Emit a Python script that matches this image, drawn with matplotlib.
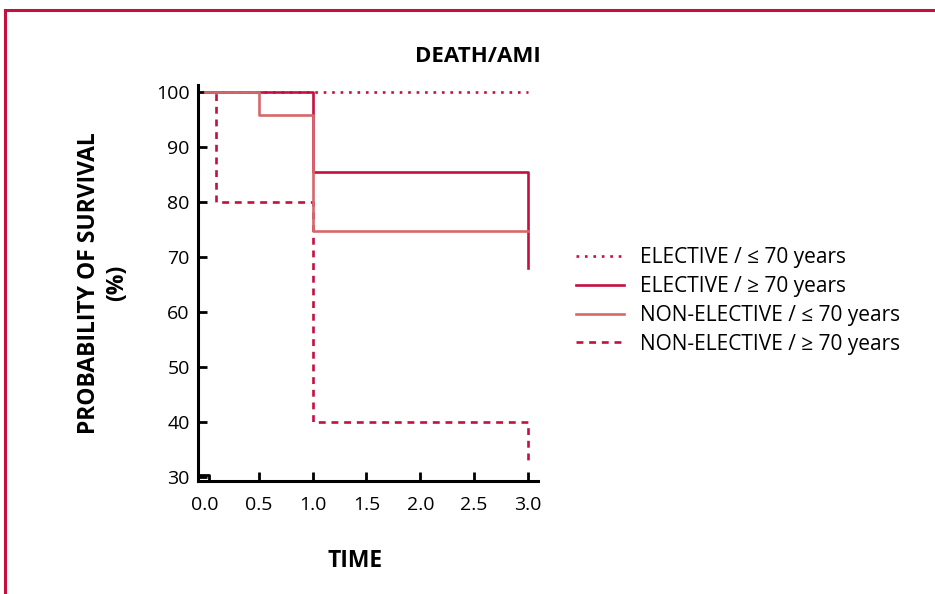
import matplotlib.pyplot as plt
from matplotlib.patches import Rectangle

plt.rcParams['font.family'] = ['Open Sans', 'DejaVu Sans']

CRIMSON = '#c4103f'
PINK = '#d6686c'

# Kaplan-Meier steps (time in years, survival in %)
elec_le70_t = [0.0, 3.0]
elec_le70_s = [100, 100]
elec_ge70_t = [0.0, 1.0, 3.0]
elec_ge70_s = [100, 85.5, 68]
nonelec_le70_t = [0.0, 0.5, 1.0, 3.0]
nonelec_le70_s = [100, 95.8, 74.8, 74.8]
nonelec_ge70_t = [0.0, 0.1, 1.0, 3.0]
nonelec_ge70_s = [100, 80, 40, 32.5]

labels = ['ELECTIVE / \u2264 70 years', 'ELECTIVE / \u2265 70 years',
          'NON-ELECTIVE / \u2264 70 years', 'NON-ELECTIVE / \u2265 70 years']

xticks = [0.0, 0.5, 1.0, 1.5, 2.0, 2.5, 3.0]
yticks = [30, 40, 50, 60, 70, 80, 90, 100]


def do_plot():
    fig = plt.figure(figsize=(9.35, 5.94), dpi=100)
    ax = fig.add_axes([198 / 935, 1 - 481 / 594, 340 / 935, 396 / 594])

    lw = 1.9
    l1, = ax.step(elec_le70_t, elec_le70_s, where='post', color=CRIMSON, lw=lw,
                  linestyle=(0, (1, 2.2)), zorder=2, label=labels[0])
    l4, = ax.step(nonelec_ge70_t, nonelec_ge70_s, where='post', color=CRIMSON, lw=lw,
                  linestyle=(0, (2.6, 2.2)), zorder=2, label=labels[3])
    l2, = ax.step(elec_ge70_t, elec_ge70_s, where='post', color=CRIMSON, lw=lw,
                  zorder=3, label=labels[1])
    l3, = ax.step(nonelec_le70_t, nonelec_le70_s, where='post', color=PINK, lw=lw,
                  zorder=4, label=labels[2])

    ax.set_xlim(-0.065, 3.093)
    ax.set_ylim(29.27, 101.3)
    ax.set_xticks(xticks)
    ax.set_xticklabels(['%.1f' % v for v in xticks])
    ax.set_yticks(yticks)
    for s in ['top', 'right']:
        ax.spines[s].set_visible(False)
    for s in ['left', 'bottom']:
        ax.spines[s].set_linewidth(2.2)
    ax.tick_params(direction='in', length=6.5, width=2, labelsize=14)
    ax.tick_params(axis='y', pad=6)
    ax.tick_params(axis='x', pad=11)
    ax.xaxis.get_major_ticks()[0].tick1line.set_visible(False)

    # small axis-break box at the corner
    ax.plot([0, 0.033, 0.033], [0.015, 0.015, 0], transform=ax.transAxes,
            color='black', lw=2, clip_on=False, solid_capstyle='butt')

    fig.legend(handles=[l1, l2, l3, l4], loc='upper left',
               bbox_to_anchor=(566 / 935, 1 - 237 / 594), frameon=False,
               fontsize=15, handlelength=2.3, handletextpad=0.75,
               labelspacing=0.37, borderpad=0)

    fig.text(478 / 935, 1 - 57 / 594, 'DEATH/AMI', ha='center', va='center',
             fontsize=16, fontweight='bold')
    fig.text(355 / 935, 1 - 561 / 594, 'TIME', ha='center', va='center',
             fontsize=16.5, fontweight='bold')
    fig.text(103 / 935, 1 - 283 / 594, 'PROBABILITY OF SURVIVAL\n(%)',
             ha='center', va='center', rotation=90, fontsize=16.5,
             fontweight='bold', multialignment='center', linespacing=1.25)

    # outer frame (runs off the right and bottom edges)
    fig.add_artist(Rectangle((5 / 935, -0.2), 1.2, 1.2 - 10 / 594,
                             transform=fig.transFigure, fill=False,
                             edgecolor=CRIMSON, lw=2.2))

    fig.savefig('out.png', dpi=100)


if __name__ == '__main__':
    do_plot()
